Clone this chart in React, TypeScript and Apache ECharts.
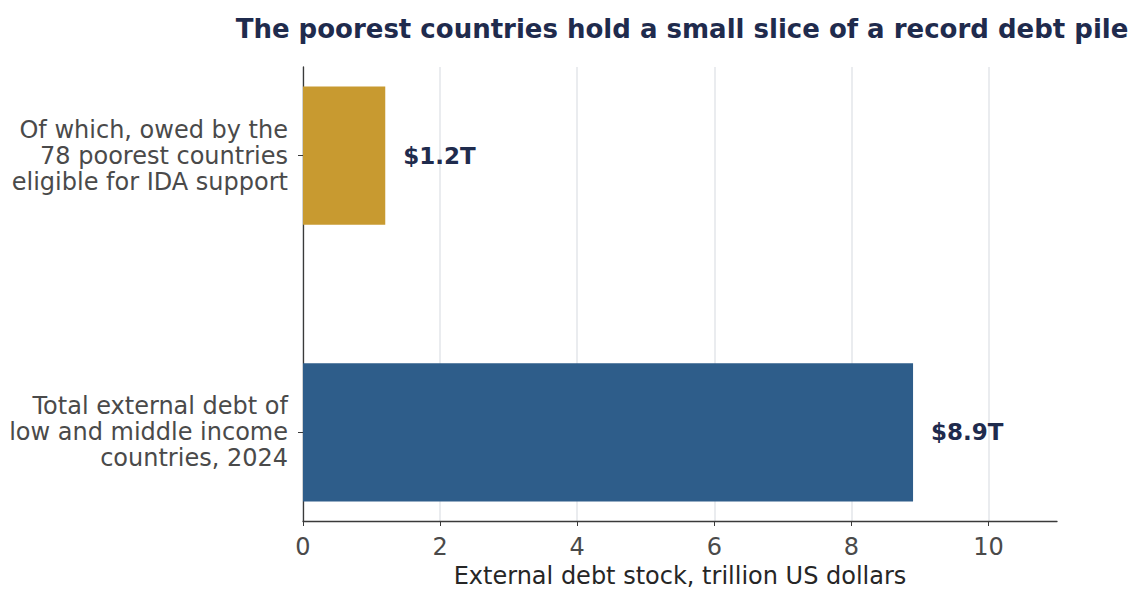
import React, { useEffect, useRef } from "react";
import * as echarts from "echarts";

const titleText = "The poorest countries hold a small slice of a record debt pile";
const categories = [
  "Total external debt of\nlow and middle income\ncountries, 2024",
  "Of which, owed by the\n78 poorest countries\neligible for IDA support",
];
const values = [8.9, 1.2];
const valueLabels = ["$8.9T", "$1.2T"];
const barColors = ["#2e5d8a", "#c89a30"];
const xTicks = [0, 2, 4, 6, 8, 10];
const xAxisName = "External debt stock, trillion US dollars";

const FONT = "DejaVu Sans";

export default function App() {
  const ref = useRef<HTMLDivElement>(null);
  useEffect(() => {
    if (!ref.current) return;
    const chart = echarts.init(ref.current, undefined, { renderer: "svg" });
    chart.setOption({
      animation: false,
      backgroundColor: "#ffffff",
      textStyle: { fontFamily: FONT },
      title: {
        text: titleText,
        left: 677,
        textAlign: "center",
        top: 11,
        textStyle: { fontFamily: FONT, fontSize: 26, fontWeight: "bold", color: "#1f2b4d" },
      },
      grid: { left: 303, right: 76, top: 67, bottom: 68, outerBoundsMode: "none", containLabel: false },
      xAxis: {
        type: "value",
        min: 0,
        max: 11,
        interval: 2,
        name: xAxisName,
        nameLocation: "middle",
        nameGap: 41,
        nameTextStyle: { fontFamily: FONT, fontSize: 24, lineHeight: 24, color: "#262626" },
        axisLine: { show: true, onZero: false, lineStyle: { color: "#3a3a3a", width: 1.3 } },
        axisTick: { show: true, length: 5, customValues: xTicks, lineStyle: { color: "#3a3a3a" } },
        axisLabel: {
          customValues: xTicks,
          margin: 14,
          fontFamily: FONT,
          fontSize: 24,
          color: "#4a4a4a",
        },
        splitLine: { show: true, lineStyle: { color: "#e3e6ea", width: 1.5 } },
      },
      yAxis: {
        type: "value",
        min: -0.32,
        max: 1.32,
        axisLine: { show: true, onZero: false, lineStyle: { color: "#3a3a3a", width: 1.3 } },
        axisTick: { show: true, length: 5, customValues: [0, 1], lineStyle: { color: "#3a3a3a" } },
        axisLabel: {
          customValues: [0, 1],
          formatter: (v: number) => categories[Math.round(v)] ?? "",
          margin: 15,
          fontFamily: FONT,
          fontSize: 24,
          lineHeight: 26,
          color: "#4a4a4a",
          align: "right",
        },
        splitLine: { show: false },
      },
      series: [
        {
          type: "custom",
          data: values.map((v, i) => [v, i]),
          encode: { x: 0, y: 1 },
          renderItem: (params: any, api: any) => {
            const v = api.value(0);
            const idx = api.value(1);
            const start = api.coord([0, idx]);
            const end = api.coord([v, idx]);
            const h = api.size([0, 0.5])[1];
            return {
              type: "rect",
              shape: { x: start[0], y: start[1] - h / 2, width: end[0] - start[0], height: h },
              style: { fill: barColors[params.dataIndex] },
              textContent: {
                style: {
                  text: valueLabels[params.dataIndex],
                  fontFamily: FONT,
                  fontSize: 23,
                  fontWeight: "bold",
                  fill: "#1f2b4d",
                },
              },
              textConfig: { position: "right", distance: 18 },
            };
          },
        },
      ],
    });
    return () => chart.dispose();
  }, []);
  return (
    <div
      ref={ref}
      style={{ position: "absolute", left: 0, top: 0, width: 1133, height: 589 }}
    />
  );
}
